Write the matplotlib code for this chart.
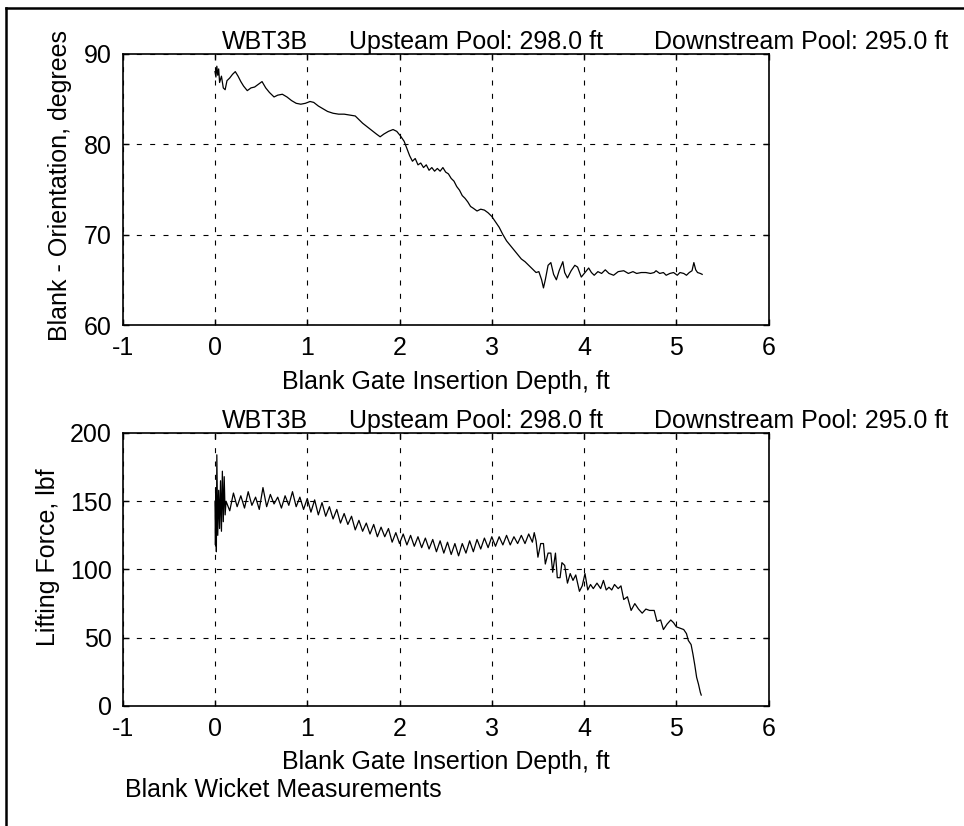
import matplotlib
matplotlib.use('Agg')
import matplotlib.pyplot as plt
from matplotlib.lines import Line2D

plt.rcParams['font.family'] = ['Liberation Sans', 'DejaVu Sans']
plt.rcParams['font.size'] = 18
plt.rcParams['axes.unicode_minus'] = False

# Blank orientation vs insertion depth (top panel)
depth_orient = [0.00, 0.01, 0.02, 0.03, 0.04, 0.05, 0.07, 0.09, 0.11, 0.13, 0.16, 0.19, 0.22, 0.25,
                0.28, 0.31, 0.35, 0.39, 0.43, 0.47, 0.51, 0.55, 0.59, 0.64, 0.68, 0.73, 0.78, 0.83,
                0.88, 0.93, 0.98, 1.03, 1.07, 1.12, 1.17, 1.22, 1.28, 1.34, 1.40, 1.46, 1.52, 1.56,
                1.60, 1.65, 1.70, 1.75, 1.79, 1.83, 1.88, 1.93, 1.97, 2.01, 2.05, 2.08, 2.11, 2.14,
                2.17, 2.20, 2.23, 2.26, 2.29, 2.32, 2.35, 2.38, 2.41, 2.44, 2.47, 2.50, 2.53, 2.56,
                2.59, 2.62, 2.65, 2.68, 2.71, 2.74, 2.77, 2.80, 2.84, 2.88, 2.92, 2.96, 3.00, 3.04,
                3.08, 3.12, 3.16, 3.20, 3.24, 3.28, 3.32, 3.36, 3.40, 3.44, 3.48, 3.51, 3.54, 3.56,
                3.58, 3.61, 3.64, 3.67, 3.70, 3.73, 3.77, 3.79, 3.82, 3.86, 3.90, 3.93, 3.97, 4.01,
                4.05, 4.08, 4.11, 4.15, 4.19, 4.23, 4.27, 4.32, 4.37, 4.43, 4.48, 4.53, 4.57, 4.62,
                4.67, 4.72, 4.76, 4.78, 4.82, 4.86, 4.89, 4.93, 4.97, 5.01, 5.04, 5.08, 5.11, 5.14,
                5.17, 5.19, 5.21, 5.23, 5.26, 5.28]
orientation = [88.0, 87.4, 88.6, 87.6, 88.3, 86.8, 87.5, 86.2, 86.0, 87.0, 87.3, 87.7, 88.0, 87.5,
               86.9, 86.4, 85.9, 86.2, 86.3, 86.6, 86.9, 86.2, 85.7, 85.2, 85.4, 85.5, 85.2, 84.8,
               84.5, 84.4, 84.5, 84.7, 84.6, 84.2, 83.9, 83.6, 83.4, 83.3, 83.3, 83.2, 83.1, 82.7,
               82.3, 81.9, 81.5, 81.1, 80.8, 81.1, 81.4, 81.6, 81.4, 80.9, 80.3, 79.5, 78.7, 78.1,
               78.4, 77.7, 77.9, 77.4, 77.7, 77.1, 77.4, 77.0, 77.3, 77.0, 77.4, 76.9, 76.7, 76.2,
               75.9, 75.3, 74.9, 74.3, 74.0, 73.6, 73.1, 72.9, 72.6, 72.8, 72.7, 72.4, 72.0, 71.4,
               70.8, 70.0, 69.3, 68.8, 68.3, 67.8, 67.3, 67.0, 66.6, 66.2, 65.8, 65.9, 65.0, 64.1,
               65.0, 66.6, 66.9, 65.6, 65.0, 66.0, 67.0, 65.8, 65.2, 66.0, 66.6, 66.4, 65.3, 65.8,
               66.3, 65.8, 65.5, 65.9, 65.7, 66.1, 65.7, 65.5, 65.9, 66.0, 65.7, 65.9, 65.7, 65.8,
               65.8, 65.7, 65.8, 66.0, 65.7, 65.8, 65.5, 65.7, 65.8, 65.5, 65.8, 65.7, 65.5, 65.8,
               66.0, 66.9, 66.1, 65.8, 65.7, 65.6]

# Lifting force vs insertion depth (bottom panel)
depth_force = [0.00, 0.005, 0.01, 0.015, 0.02, 0.03, 0.04, 0.05, 0.06, 0.07, 0.08, 0.09, 0.10, 0.11,
               0.12, 0.16, 0.20, 0.24, 0.28, 0.32, 0.36, 0.40, 0.44, 0.48, 0.52, 0.56, 0.60, 0.64,
               0.68, 0.72, 0.76, 0.80, 0.84, 0.88, 0.92, 0.96, 1.00, 1.04, 1.08, 1.12, 1.16, 1.20,
               1.24, 1.28, 1.32, 1.36, 1.40, 1.44, 1.48, 1.52, 1.56, 1.60, 1.64, 1.68, 1.72, 1.76,
               1.80, 1.84, 1.88, 1.92, 1.96, 2.00, 2.04, 2.08, 2.12, 2.16, 2.20, 2.24, 2.28, 2.32,
               2.36, 2.40, 2.44, 2.48, 2.52, 2.56, 2.60, 2.64, 2.68, 2.72, 2.76, 2.80, 2.84, 2.88,
               2.92, 2.96, 3.00, 3.04, 3.08, 3.12, 3.16, 3.20, 3.24, 3.28, 3.32, 3.36, 3.40, 3.44,
               3.46, 3.48, 3.50, 3.53, 3.56, 3.58, 3.61, 3.64, 3.66, 3.69, 3.71, 3.74, 3.76, 3.79,
               3.82, 3.85, 3.88, 3.91, 3.95, 3.98, 4.01, 4.04, 4.07, 4.10, 4.14, 4.18, 4.21, 4.24,
               4.27, 4.30, 4.33, 4.37, 4.40, 4.43, 4.47, 4.51, 4.55, 4.59, 4.63, 4.67, 4.71, 4.76,
               4.79, 4.83, 4.86, 4.90, 4.94, 4.97, 5.00, 5.04, 5.08, 5.11, 5.13, 5.16, 5.18, 5.20,
               5.22, 5.24, 5.26, 5.27]
force = [150, 118, 160, 113, 184, 125, 158, 130, 165, 128, 172, 135, 168, 140,
         150, 143, 156, 146, 154, 145, 157, 147, 153, 144, 160, 146, 155, 148,
         153, 145, 154, 147, 157, 146, 153, 144, 152, 142, 151, 140, 149, 139,
         146, 137, 144, 134, 141, 133, 139, 129, 136, 128, 134, 126, 133, 124,
         131, 124, 130, 120, 127, 119, 126, 118, 125, 117, 124, 116, 123, 115,
         122, 113, 121, 112, 120, 111, 119, 110, 119, 112, 121, 113, 122, 115,
         123, 116, 124, 117, 124, 118, 125, 118, 124, 119, 125, 119, 126, 120,
         127, 121, 109, 119, 119, 104, 112, 112, 98, 112, 94, 94, 105, 103,
         90, 97, 92, 96, 84, 88, 97, 85, 89, 86, 90, 86, 92, 85,
         87, 85, 89, 86, 88, 78, 80, 70, 75, 71, 68, 71, 70, 70,
         62, 63, 56, 60, 63, 61, 58, 57, 56, 53, 48, 45, 38, 30,
         21, 16, 10, 8]

x_ticks = [-1, 0, 1, 2, 3, 4, 5, 6]
orient_ticks = [60, 70, 80, 90]
force_ticks = [0, 50, 100, 150, 200]
title_parts = ['WBT3B', 'Upsteam Pool: 298.0 ft', 'Downstream Pool: 295.0 ft']
title_x = [0.153, 0.350, 0.822]
xlabel = 'Blank Gate Insertion Depth, ft'

fig = plt.figure(figsize=(9.64, 8.26), dpi=100)
ax1 = fig.add_axes([0.1273, 0.6065, 0.670, 0.3287])
ax2 = fig.add_axes([0.1273, 0.1453, 0.670, 0.3305])


def style_axes(ax, yticks):
    ax.set_xlim(-1, 6)
    ax.set_ylim(yticks[0], yticks[-1])
    ax.set_xticks(x_ticks)
    ax.set_yticks(yticks)
    ax.tick_params(direction='in', length=4, width=1, top=True, right=True, pad=8,
                   labelsize=18, colors='black')
    ax.grid(True, color='black', linestyle=(0, (4.5, 7.5)), linewidth=0.8)
    for sp in ax.spines.values():
        sp.set_linewidth(1.2)
        sp.set_color('black')
    # three part MATLAB-like title
    for txt, tx in zip(title_parts, title_x):
        ax.text(tx, 1.018, txt, transform=ax.transAxes, ha='left', va='baseline',
                fontsize=18, clip_on=False)
    ax.set_xlabel(xlabel, fontsize=18)


ax1.plot(depth_orient, orientation, color='black', linewidth=0.9)
style_axes(ax1, orient_ticks)
ax1.set_ylabel('Blank - Orientation, degrees', fontsize=18)
ax1.yaxis.set_label_coords(-0.079, 0.515)
ax1.xaxis.set_label_coords(0.5, -0.165)

ax2.plot(depth_force, force, color='black', linewidth=0.9)
style_axes(ax2, force_ticks)
ax2.set_ylabel('Lifting Force, lbf', fontsize=18)
ax2.yaxis.set_label_coords(-0.097, 0.546)
ax2.xaxis.set_label_coords(0.5, -0.162)

fig.text(125 / 964, 1 - 797 / 826, 'Blank Wicket Measurements', ha='left', va='baseline',
         fontsize=18)

# scanned page border (top and left edges)
fig.add_artist(Line2D([6 / 964, 1], [1 - 8 / 826, 1 - 8 / 826], transform=fig.transFigure,
                      color='black', linewidth=1.8))
fig.add_artist(Line2D([6 / 964, 6 / 964], [0, 1 - 8 / 826], transform=fig.transFigure,
                      color='black', linewidth=1.8))

fig.savefig('out.png', dpi=100, facecolor='white')
